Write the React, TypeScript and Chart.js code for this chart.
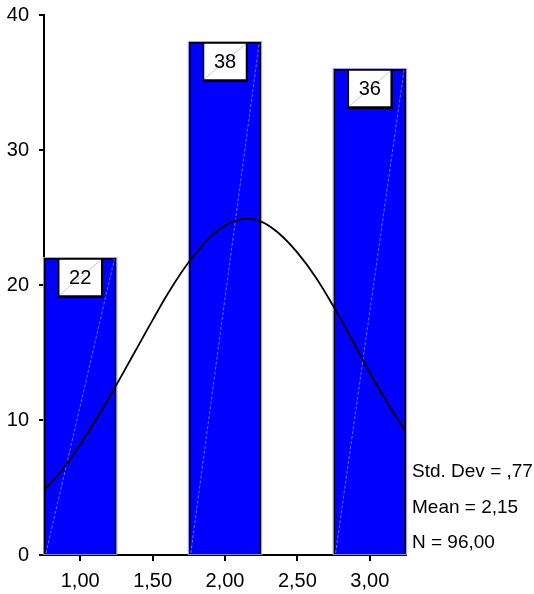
import React, { useEffect, useRef } from "react";
import { Chart, registerables } from "chart.js";

Chart.register(...registerables);

// Histogram bins (centres) and counts
const binCenters = [1, 2, 3];
const frequencies = [22, 38, 36];

// Normal curve overlay
const curveX = [0.75, 0.875, 1.0, 1.125, 1.25, 1.375, 1.5, 1.625, 1.75, 1.875, 2.0, 2.125, 2.25, 2.375, 2.5, 2.625, 2.75, 2.875, 3.0, 3.125, 3.25];
const curveY = [4.8, 6.3, 8.2, 10.3, 12.6, 15.0, 17.4, 19.7, 21.7, 23.3, 24.4, 24.9, 24.7, 23.8, 22.4, 20.6, 18.4, 16.0, 13.5, 11.2, 9.1];

// Axis ticks
const xTickValues = [1, 1.5, 2, 2.5, 3];
const xRange = [0.75, 3.25];
const yRange = [0, 40];
const yStep = 10;

// Statistics legend
const statLines = ["Std. Dev = ,77", "Mean = 2,15", "N = 96,00"];

const FONT = "'Liberation Sans', Arial, Helvetica, sans-serif";
const NARROW = "'Liberation Sans Narrow', 'Arial Narrow', 'Liberation Sans', Arial, sans-serif";

const decorPlugin = {
  id: "spssDecor",
  afterDatasetDraw(chart: any, args: any) {
    if (args.index !== 0) return;
    const ctx = chart.ctx;
    const meta = chart.getDatasetMeta(0);
    ctx.save();
    meta.data.forEach((el: any, i: number) => {
      const p = el.getProps(["x", "y", "base", "width"], true);
      const left = p.x - p.width / 2;
      const right = p.x + p.width / 2;
      const top = p.y;
      const bottom = p.base;
      // faint outer outline
      ctx.strokeStyle = "rgba(150,150,255,0.9)";
      ctx.lineWidth = 1;
      ctx.strokeRect(left - 0.5, top - 0.5, right - left + 1, bottom - top + 1);
      // faint diagonal
      ctx.strokeStyle = "rgba(170,170,255,0.8)";
      ctx.lineWidth = 0.8;
      ctx.setLineDash([3, 2]);
      ctx.beginPath();
      ctx.moveTo(left + 2, bottom - 1);
      ctx.lineTo(right - 2, top + 1);
      ctx.stroke();
      ctx.setLineDash([]);
      // label box
      const bw = 43;
      const bh = 37;
      const bx = p.x - bw / 2;
      const by = top + 1;
      ctx.fillStyle = "#ffffff";
      ctx.fillRect(bx, by, bw, bh);
      ctx.strokeStyle = "rgba(170,170,255,0.9)";
      ctx.lineWidth = 0.8;
      ctx.beginPath();
      ctx.moveTo(bx + 1, by + bh - 1);
      ctx.lineTo(bx + bw - 1, by + 1);
      ctx.stroke();
      ctx.strokeStyle = "#000";
      ctx.lineWidth = 1.5;
      ctx.strokeRect(bx, by, bw, bh);
      ctx.lineWidth = 2;
      ctx.beginPath();
      ctx.moveTo(bx + bw + 0.5, by);
      ctx.lineTo(bx + bw + 0.5, by + bh + 1);
      ctx.lineTo(bx, by + bh + 1);
      ctx.stroke();
      ctx.fillStyle = "#000";
      ctx.font = `20px ${NARROW}`;
      ctx.textAlign = "center";
      ctx.textBaseline = "middle";
      ctx.fillText(String(frequencies[i]), p.x, by + bh / 2 + 1);
    });
    ctx.restore();
  },
  afterDraw(chart: any) {
    const ctx = chart.ctx;
    const area = chart.chartArea;
    ctx.save();
    ctx.fillStyle = "#000";
    ctx.font = `19px ${FONT}`;
    ctx.textAlign = "left";
    ctx.textBaseline = "alphabetic";
    statLines.forEach((s, i) => {
      ctx.fillText(s, area.right + 6, area.bottom - 78 + i * 35.5);
    });
    ctx.restore();
  },
};

export default function App() {
  const ref = useRef<HTMLCanvasElement | null>(null);

  useEffect(() => {
    if (!ref.current) return;
    const chart = new Chart(ref.current, {
      type: "bar",
      data: {
        datasets: [
          {
            type: "bar",
            data: binCenters.map((x, i) => ({ x, y: frequencies[i] })),
            backgroundColor: "#0000ff",
            borderColor: "#000000",
            borderWidth: 2,
            barPercentage: 1,
            categoryPercentage: 1,
            order: 1,
          } as any,
          {
            type: "line",
            data: curveX.map((x, i) => ({ x, y: curveY[i] })),
            borderColor: "#000000",
            borderWidth: 1.8,
            pointRadius: 0,
            tension: 0.4,
            fill: false,
            order: 0,
          } as any,
        ],
      },
      options: {
        animation: false,
        responsive: false,
        maintainAspectRatio: false,
        layout: { padding: { left: 0, top: 15, right: 128, bottom: 0 } },
        plugins: {
          legend: { display: false },
          tooltip: { enabled: false },
          title: { display: false },
        },
        scales: {
          x: {
            type: "linear",
            min: xRange[0],
            max: xRange[1],
            offset: false,
            afterBuildTicks: (scale: any) => {
              scale.ticks = xTickValues.map((v) => ({ value: v }));
            },
            afterFit: (scale: any) => {
              scale.height = 39;
              scale.paddingLeft = 0;
              scale.paddingRight = 0;
            },
            ticks: {
              color: "#000",
              font: { size: 20, family: NARROW },
              padding: 8,
              maxRotation: 0,
              autoSkip: false,
              callback: (v: any) => Number(v).toFixed(2).replace(".", ","),
            },
            grid: {
              display: true,
              drawOnChartArea: false,
              drawTicks: true,
              tickLength: 6,
              color: "#000",
              lineWidth: 2,
              offset: false,
            },
            border: { display: true, color: "#000", width: 2 },
          },
          y: {
            type: "linear",
            min: yRange[0],
            max: yRange[1],
            afterFit: (scale: any) => {
              scale.width = 44;
              scale.paddingTop = 0;
              scale.paddingBottom = 0;
            },
            ticks: {
              stepSize: yStep,
              color: "#000",
              font: { size: 20, family: NARROW },
              padding: 10,
            },
            grid: {
              display: true,
              drawOnChartArea: false,
              drawTicks: true,
              tickLength: 5,
              color: "#000",
              lineWidth: 2,
            },
            border: { display: true, color: "#000", width: 2 },
          },
        },
      } as any,
      plugins: [decorPlugin],
    });
    return () => chart.destroy();
  }, []);

  return (
    <div style={{ position: "fixed", left: 0, top: 0, width: 534, height: 594, background: "#fff" }}>
      <canvas ref={ref} width={534} height={594} style={{ width: 534, height: 594, display: "block" }} />
    </div>
  );
}
